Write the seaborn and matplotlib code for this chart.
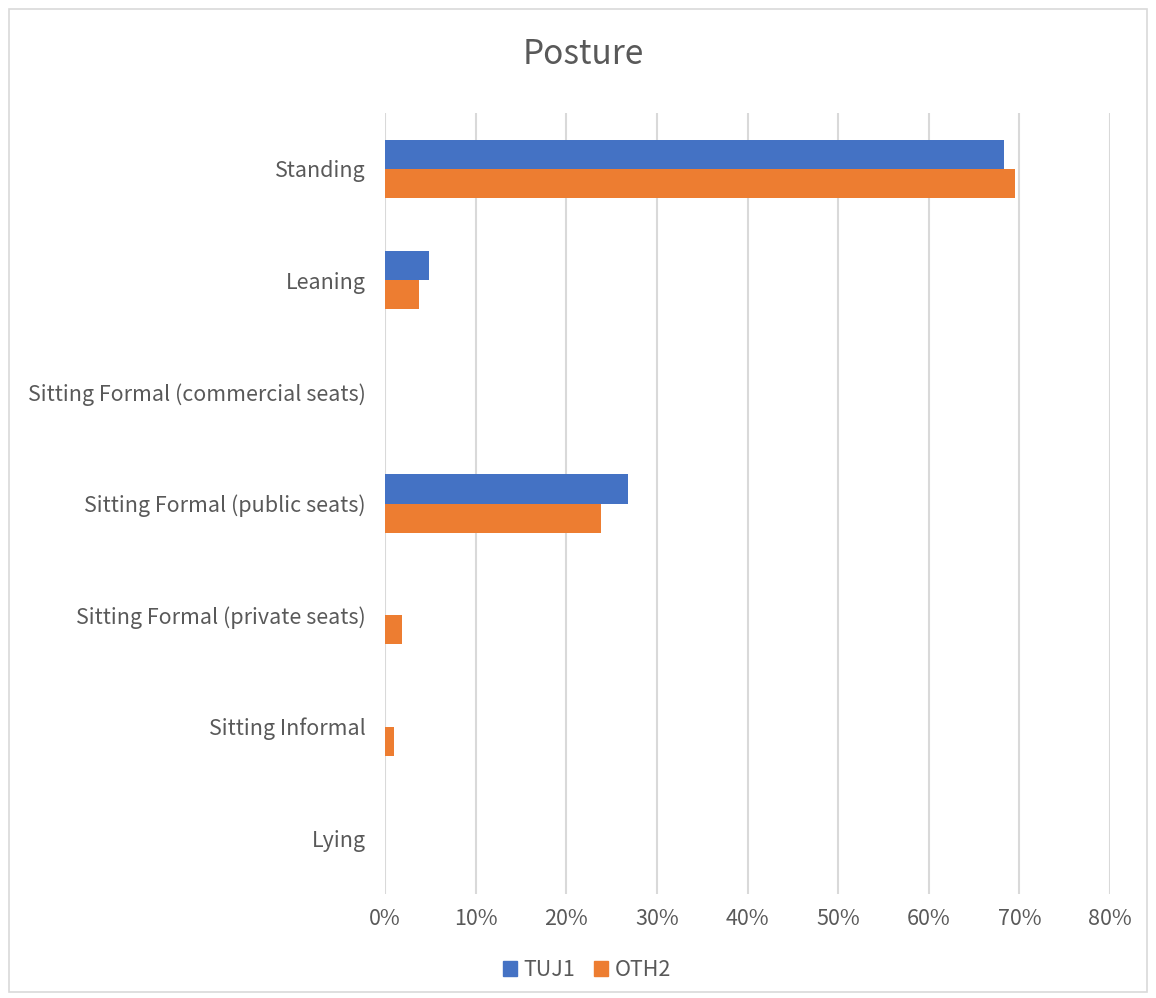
import matplotlib
matplotlib.use("Agg")
import matplotlib.pyplot as plt
import seaborn as sns
import pandas as pd
from matplotlib.patches import Rectangle
from matplotlib.ticker import FuncFormatter, MultipleLocator

categories = ["Standing", "Leaning", "Sitting Formal (commercial seats)",
              "Sitting Formal (public seats)", "Sitting Formal (private seats)",
              "Sitting Informal", "Lying"]
tuj1 = [0.683, 0.049, 0.0, 0.268, 0.0, 0.0, 0.0]
oth2 = [0.695, 0.038, 0.0, 0.238, 0.019, 0.0096, 0.0]
series_names = ["TUJ1", "OTH2"]
colors = ["#4472C4", "#ED7D31"]

df = pd.DataFrame({
    "Posture": categories * 2,
    "Value": tuj1 + oth2,
    "Series": [series_names[0]] * len(categories) + [series_names[1]] * len(categories),
})

sns.set_theme(style="white")
plt.rcParams['font.family'] = ['Noto Sans CJK SC', 'DejaVu Sans']
text_color = "#595959"

fig = plt.figure(figsize=(11.56, 9.98), dpi=100)
ax = fig.add_axes([385 / 1156, 1 - 894 / 998, (1110 - 385) / 1156, (894 - 113) / 998])

sns.barplot(data=df, y="Posture", x="Value", hue="Series", order=categories,
            hue_order=series_names, palette=colors, orient="h", width=0.52,
            gap=0, ax=ax, legend=False, saturation=1, linewidth=0)

ax.set_xlim(0, 0.8)
ax.set_ylim(len(categories) - 0.5, -0.5)
ax.xaxis.set_major_locator(MultipleLocator(0.1))
ax.xaxis.set_major_formatter(FuncFormatter(lambda v, p: f"{v*100:.0f}%"))
ax.grid(axis="x", color="#d9d9d9", linewidth=1.5)
ax.set_axisbelow(True)
for s in ax.spines.values():
    s.set_visible(False)
ax.set_xlabel("")
ax.set_ylabel("")
ax.tick_params(axis="both", length=0, labelsize=15.5, colors=text_color)
ax.tick_params(axis="y", pad=14)
ax.tick_params(axis="x", pad=10)

fig.text(583 / 1156, 1 - 55 / 998, "Posture", ha="center", va="center",
         fontsize=24, color=text_color, fontweight="light")

handles = [Rectangle((0, 0), 1, 1, color=c) for c in colors]
fig.legend(handles, series_names, loc="center", bbox_to_anchor=(587 / 1156, 1 - 970 / 998),
           ncol=2, frameon=False, fontsize=15.5, labelcolor=text_color,
           handlelength=0.65, handleheight=0.65, handletextpad=0.3, columnspacing=0.9)

fig.patches.append(Rectangle((9 / 1156, 1 - 992 / 998), (1147 - 9) / 1156, (992 - 9) / 998,
                             transform=fig.transFigure, fill=False,
                             edgecolor="#d9d9d9", linewidth=1.2))

fig.savefig("out.png", dpi=100, facecolor="white")
